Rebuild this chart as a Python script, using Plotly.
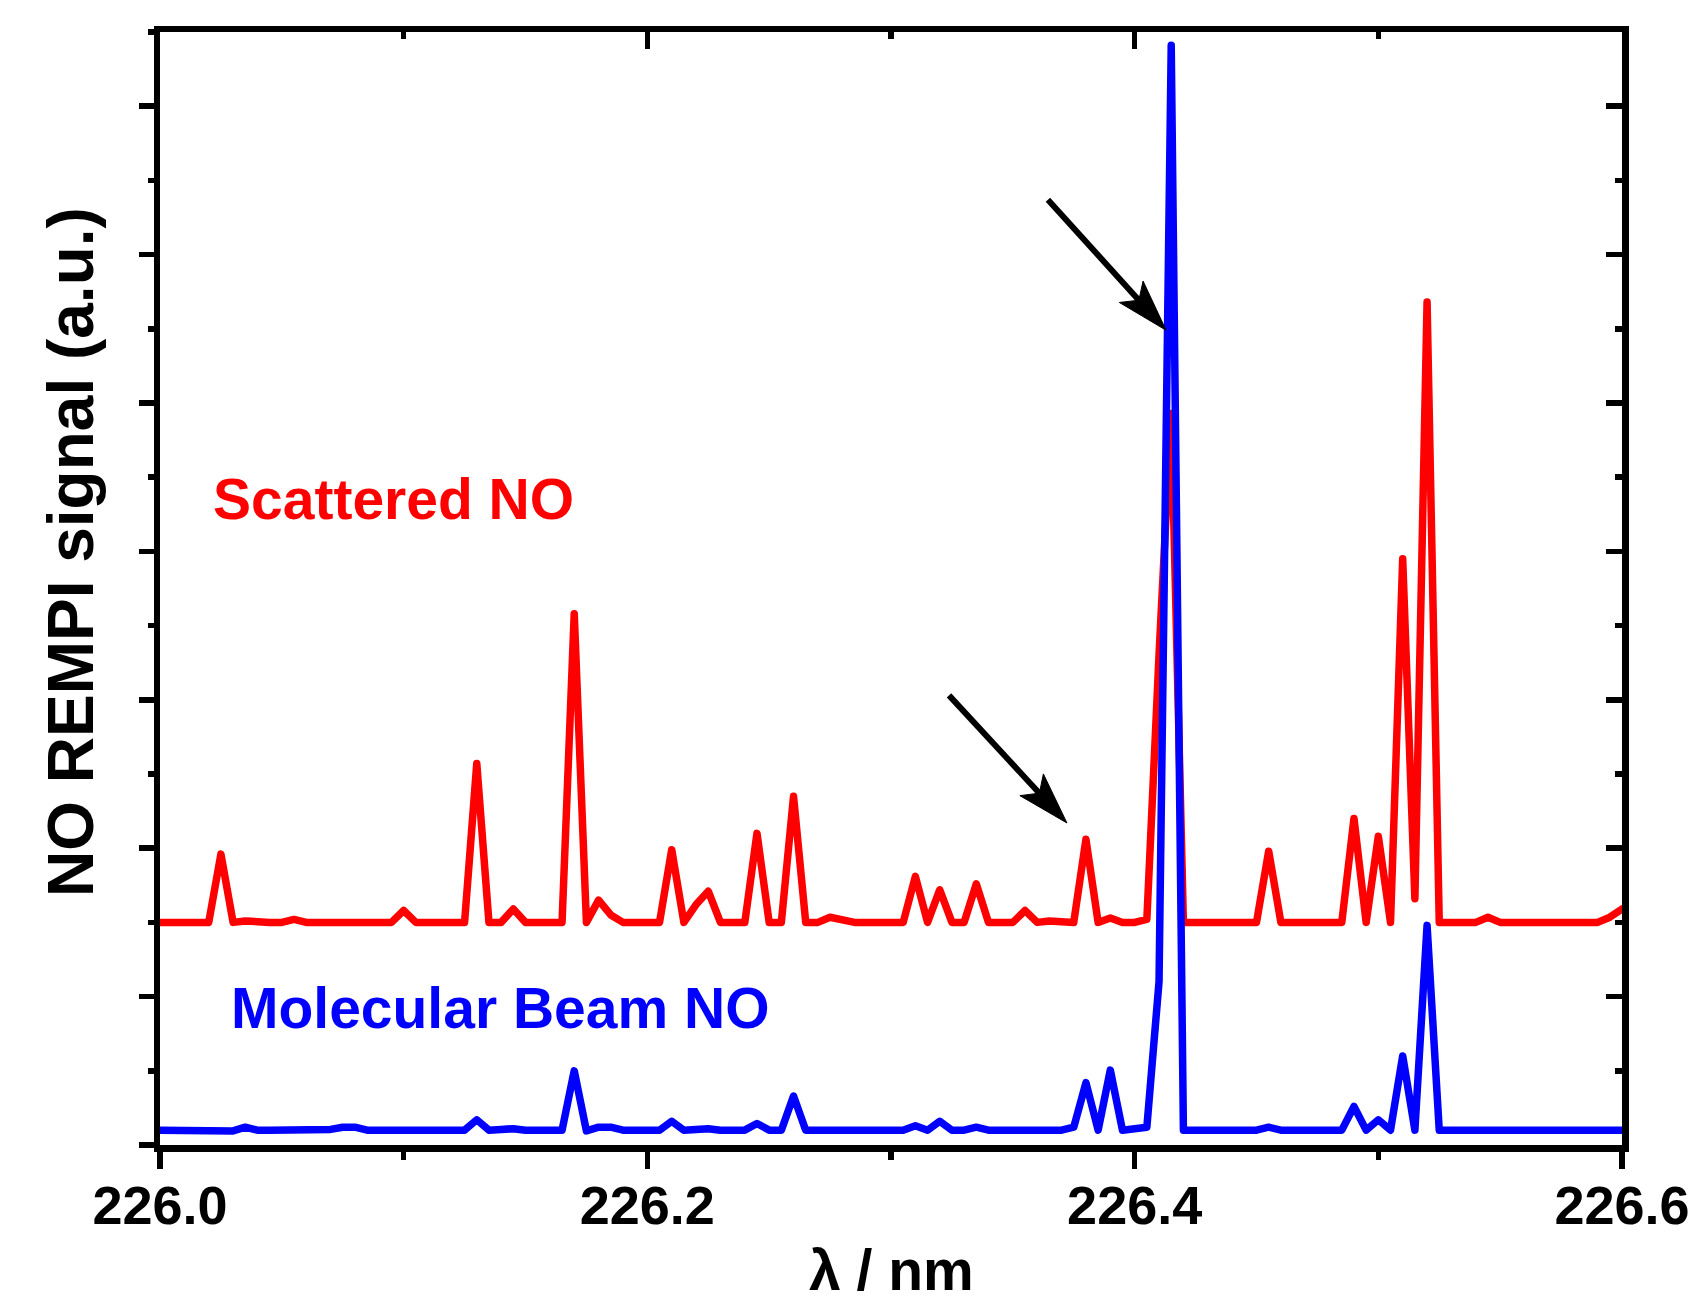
import math
import plotly.graph_objects as go

# ---------------- data ----------------
WL_START = 226.0   # nm
WL_STEP = 0.005    # nm

scattered_no = [
    1.50, 1.50, 1.50, 1.50, 1.50, 1.96, 1.50, 1.51, 1.50, 1.50,
    1.50, 1.52, 1.50, 1.50, 1.50, 1.51, 1.51, 1.50, 1.50, 1.50,
    1.58, 1.50, 1.50, 1.50, 1.50, 1.50, 2.57, 1.50, 1.50, 1.59,
    1.50, 1.50, 1.50, 1.50, 3.58, 1.50, 1.65, 1.55, 1.50, 1.50,
    1.50, 1.50, 1.99, 1.50, 1.62, 1.71, 1.50, 1.50, 1.50, 2.10,
    1.50, 1.50, 2.35, 1.50, 1.50, 1.535, 1.52, 1.50, 1.50, 1.50,
    1.50, 1.50, 1.81, 1.50, 1.72, 1.50, 1.50, 1.76, 1.50, 1.50,
    1.50, 1.58, 1.50, 1.51, 1.505, 1.50, 2.06, 1.50, 1.53, 1.50,
    1.50, 1.52, 3.30, 4.93, 1.50, 1.50, 1.505, 1.50, 1.50, 1.50,
    1.50, 1.98, 1.50, 1.50, 1.50, 1.505, 1.50, 1.50, 2.20, 1.50,
    2.08, 1.50, 3.95, 1.66, 5.68, 1.50, 1.50, 1.50, 1.50, 1.535,
    1.50, 1.50, 1.50, 1.50, 1.50, 1.50, 1.50, 1.50, 1.50, 1.535,
    1.59,
]

molecular_beam_no = [
    0.10, 0.10, 0.10, 0.10, 0.10, 0.105, 0.095, 0.12, 0.10, 0.10,
    0.10, 0.10, 0.10, 0.10, 0.105, 0.12, 0.12, 0.10, 0.10, 0.10,
    0.10, 0.10, 0.10, 0.10, 0.10, 0.10, 0.17, 0.10, 0.105, 0.11,
    0.10, 0.10, 0.10, 0.10, 0.50, 0.095, 0.12, 0.12, 0.10, 0.10,
    0.10, 0.10, 0.16, 0.10, 0.105, 0.11, 0.10, 0.10, 0.10, 0.145,
    0.10, 0.10, 0.33, 0.10, 0.10, 0.10, 0.10, 0.10, 0.10, 0.10,
    0.10, 0.10, 0.13, 0.10, 0.16, 0.10, 0.10, 0.12, 0.10, 0.10,
    0.10, 0.10, 0.10, 0.105, 0.10, 0.12, 0.42, 0.10, 0.505, 0.10,
    0.105, 0.12, 1.10, 7.41, 0.10, 0.10, 0.10, 0.10, 0.10, 0.10,
    0.10, 0.12, 0.10, 0.10, 0.10, 0.105, 0.10, 0.10, 0.26, 0.10,
    0.17, 0.10, 0.60, 0.10, 1.48, 0.10, 0.10, 0.10, 0.10, 0.105,
    0.10, 0.10, 0.10, 0.10, 0.10, 0.10, 0.10, 0.10, 0.10, 0.10,
    0.10,
]

x_range = [226.0, 226.6]
y_range = [0.0, 7.5]
x_tick_step = 0.2
x_minor_step = 0.1
y_tick_step = 1.0
y_minor_step = 0.5

# labels
x_title = "λ / nm"
y_title = "NO REMPI signal (a.u.)"
label_scattered = "Scattered NO"
label_beam = "Molecular Beam NO"

# arrows: (tail_x, tail_y, tip_x, tip_y) in data units
arrows = [
    (226.3644, 6.37, 226.4129, 5.49),
    (226.3238, 3.03, 226.3722, 2.17),
]

# ---------------- layout geometry ----------------
W, H = 1698, 1307
M_L, M_R, M_T, M_B = 160, 76, 32, 162
PLOT_W = W - M_L - M_R
PLOT_H = H - M_T - M_B
px_x = PLOT_W / (x_range[1] - x_range[0])
px_y = PLOT_H / (y_range[1] - y_range[0])

FONT = "Liberation Sans, Arial, sans-serif"
RED = "#ff0000"
BLUE = "#0000ff"
LW = 7.5

fig = go.Figure()
fig.add_trace(go.Scatter(
    x0=WL_START, dx=WL_STEP, y=scattered_no, mode="lines",
    line=dict(color=RED, width=LW), name=label_scattered,
    showlegend=False, hoverinfo="skip"))
fig.add_trace(go.Scatter(
    x0=WL_START, dx=WL_STEP, y=molecular_beam_no, mode="lines",
    line=dict(color=BLUE, width=LW), name=label_beam,
    xaxis="x2", yaxis="y2", showlegend=False, hoverinfo="skip"))

# arrows as shaft line + notched filled head
shapes = []
HEAD_L, HEAD_W, NOTCH = 52.0, 32.0, 0.78
for tx, ty, hx, hy in arrows:
    dxp = (hx - tx) * px_x
    dyp = (hy - ty) * px_y
    d = math.hypot(dxp, dyp)
    ux, uy = dxp / d, dyp / d
    nx, ny = -uy, ux

    def to_data(ox, oy, hx=hx, hy=hy):
        return hx + ox / px_x, hy + oy / px_y

    c1 = to_data(-HEAD_L * ux + HEAD_W / 2 * nx, -HEAD_L * uy + HEAD_W / 2 * ny)
    c2 = to_data(-HEAD_L * ux - HEAD_W / 2 * nx, -HEAD_L * uy - HEAD_W / 2 * ny)
    nt = to_data(-NOTCH * HEAD_L * ux, -NOTCH * HEAD_L * uy)
    shapes.append(dict(type="line", xref="x", yref="y", x0=tx, y0=ty,
                       x1=nt[0], y1=nt[1], line=dict(color="black", width=6)))
    path = (f"M {hx},{hy} L {c1[0]},{c1[1]} L {nt[0]},{nt[1]} "
            f"L {c2[0]},{c2[1]} Z")
    shapes.append(dict(type="path", xref="x", yref="y", path=path,
                       fillcolor="black", line=dict(color="black", width=1)))

axis_common = dict(showline=True, linewidth=6.5, linecolor="black",
                   showgrid=False, zeroline=False, tickcolor="black",
                   tickwidth=5.5)

fig.update_layout(
    width=W, height=H,
    margin=dict(l=M_L, r=M_R, t=M_T, b=M_B, autoexpand=False),
    paper_bgcolor="white", plot_bgcolor="white",
    xaxis=dict(range=x_range, ticks="outside", ticklen=17,
               tick0=x_range[0], dtick=x_tick_step, tickformat=".1f",
               ticklabelstandoff=-9,
               minor=dict(ticks="outside", ticklen=8, dtick=x_minor_step,
                          tickwidth=5.5, tickcolor="black"),
               tickfont=dict(family=FONT, size=54, color="black", weight="bold"),
               **axis_common),
    xaxis2=dict(range=x_range, overlaying="x", side="top", ticks="inside",
                ticklen=17, tick0=x_range[0], dtick=x_tick_step,
                showticklabels=False,
                minor=dict(ticks="inside", ticklen=7, dtick=x_minor_step,
                           tickwidth=5.5, tickcolor="black"),
                **axis_common),
    yaxis=dict(range=y_range, ticks="outside", ticklen=15, tick0=0,
               dtick=y_tick_step, showticklabels=False,
               minor=dict(ticks="outside", ticklen=6, dtick=y_minor_step,
                          tickwidth=5.5, tickcolor="black"),
               **axis_common),
    yaxis2=dict(range=y_range, overlaying="y", side="right", ticks="inside",
                ticklen=16, tick0=0, dtick=y_tick_step, showticklabels=False,
                minor=dict(ticks="inside", ticklen=7, dtick=y_minor_step,
                           tickwidth=5.5, tickcolor="black"),
                **axis_common),
    shapes=shapes,
    annotations=[
        dict(text=label_scattered, x=226.0209, y=4.35, xref="x", yref="y",
             xanchor="left", yanchor="middle", showarrow=False,
             font=dict(family=FONT, size=57, color=RED, weight="bold")),
        dict(text=label_beam, x=226.0283, y=0.92, xref="x", yref="y",
             xanchor="left", yanchor="middle", showarrow=False,
             font=dict(family=FONT, size=57, color=BLUE, weight="bold")),
        dict(text=x_title, x=0.5, y=-(1270 - (H - M_B)) / PLOT_H,
             xref="paper", yref="paper", xanchor="center", yanchor="middle",
             showarrow=False, borderpad=0,
             font=dict(family=FONT, size=57, color="black", weight="bold")),
        dict(text=y_title, x=(71 - M_L) / PLOT_W, y=(H - M_B - 552) / PLOT_H,
             xref="paper", yref="paper", xanchor="center", yanchor="middle",
             textangle=-90, showarrow=False,
             font=dict(family=FONT, size=64, color="black", weight="bold")),
    ],
)

post = (
    "document.body.style.margin='0px';"
    "document.body.style.overflow='hidden';"
    "var s=document.createElement('style');"
    "s.textContent='.js-line{stroke-linejoin:round !important;"
    "stroke-linecap:round !important;}';"
    "document.head.appendChild(s);"
)
fig.write_html("out.html", post_script=post,
               config={"displayModeBar": False, "staticPlot": True})
